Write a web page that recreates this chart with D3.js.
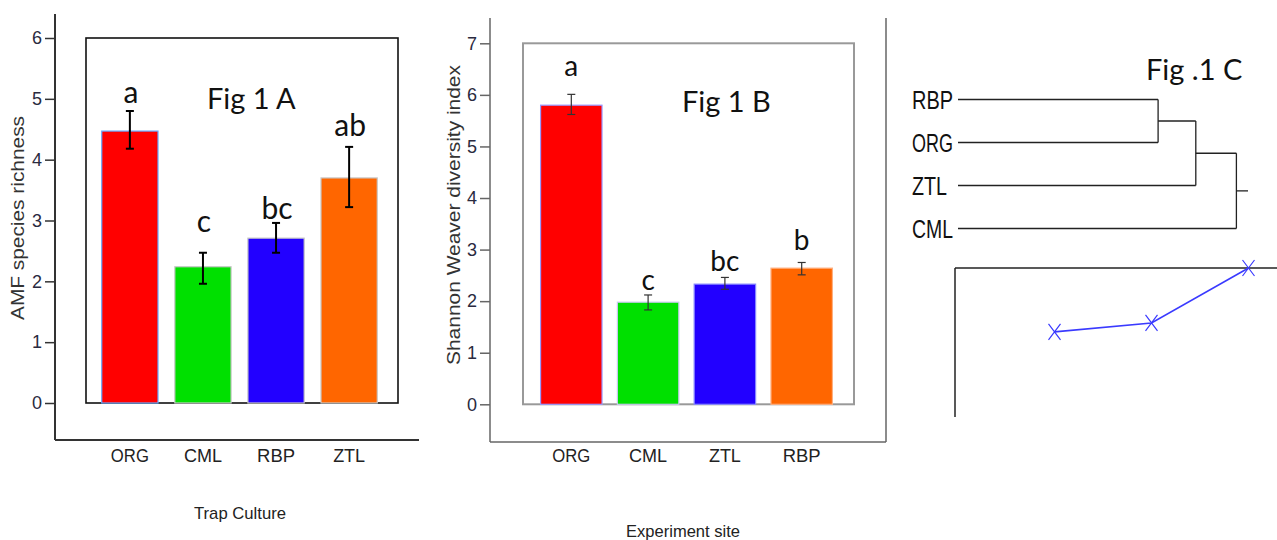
<!DOCTYPE html>
<html><head><meta charset="utf-8">
<script src="https://cdn.jsdelivr.net/npm/d3@7"></script>
<style>body{margin:0;background:#fff;}svg{display:block;}</style>
</head><body>
<svg id="c" width="1277" height="540"></svg>
<script>
// ---- Data ----
const catsA = ["ORG","CML","RBP","ZTL"];
const valsA = [4.47, 2.24, 2.71, 3.70];
const errHiA = [4.80, 2.47, 2.96, 4.21];
const errLoA = [4.18, 1.96, 2.47, 3.22];
const lettersA = ["a","c","bc","ab"];
const colorsA = ["#ff0000","#00e000","#2200ff","#ff6600"];
const ticksA = [0,1,2,3,4,5,6];

const catsB = ["ORG","CML","ZTL","RBP"];
const valsB = [5.80, 1.98, 2.33, 2.64];
const errHiB = [6.01, 2.12, 2.46, 2.75];
const errLoB = [5.62, 1.83, 2.23, 2.51];
const lettersB = ["a","c","bc","b"];
const colorsB = ["#ff0000","#00e000","#2200ff","#ff6600"];
const ticksB = [0,1,2,3,4,5,6,7];

const leavesC = ["RBP","ORG","ZTL","CML"];
const mergeHeightsC = [0.69, 0.82, 0.96]; // (RBP,ORG) ; (+ZTL) ; (+CML)
const rootStubC = 1.0;
const lineX = [1,2,3];
const lineY = [0.43, 0.37, 0.0];

const svg = d3.select("#c");
const sans = "'Liberation Sans', Arial, sans-serif";
const cal = "Lato, 'Open Sans', sans-serif";

function barPanel(o){
  const g = svg.append("g");
  const y = d3.scaleLinear().domain([0, o.ymax]).range([o.y0, o.y1]);
  const x = d3.scaleBand().domain(o.cats).range([o.bx0, o.bx1]).paddingInner(o.padIn).paddingOuter(o.padOut);
  g.append("line").attr("x1",o.ax).attr("x2",o.ax).attr("y1",o.axTop).attr("y2",o.axBot)
    .attr("stroke",o.axColor).attr("stroke-width",o.axW);
  g.append("line").attr("x1",o.ax).attr("x2",o.axRight).attr("y1",o.axBot).attr("y2",o.axBot)
    .attr("stroke",o.axColor).attr("stroke-width",o.axW);
  if(o.rightLine) g.append("line").attr("x1",o.axRight).attr("x2",o.axRight).attr("y1",o.axTop).attr("y2",o.axBot)
    .attr("stroke",o.axColor).attr("stroke-width",o.axW);
  const ya = g.append("g").attr("transform",`translate(${o.ax},0)`)
    .call(d3.axisLeft(y).tickValues(o.ticks).tickFormat(d3.format("d")).tickSize(10).tickPadding(3));
  ya.select(".domain").remove();
  ya.selectAll("line").attr("stroke",o.axColor).attr("stroke-width",1.5);
  ya.selectAll("text").attr("font-family",sans).attr("font-size",18).attr("fill","#2a2a40");
  g.append("rect").attr("x",o.boxX0).attr("y",y(o.ymax)).attr("width",o.boxX1-o.boxX0).attr("height",y(0)-y(o.ymax))
    .attr("fill","none").attr("stroke",o.boxColor).attr("stroke-width",o.boxW);
  g.selectAll("rect.bar").data(o.vals).enter().append("rect").attr("class","bar")
    .attr("x",(d,i)=>x(o.cats[i])).attr("width",x.bandwidth())
    .attr("y",d=>y(d)).attr("height",d=>y(0)-y(d))
    .attr("fill",(d,i)=>o.colors[i]).attr("stroke",(d,i)=>o.barStroke[i]).attr("stroke-width",1.2);
  const cx = i => x(o.cats[i]) + x.bandwidth()/2;
  o.vals.forEach((v,i)=>{
    g.append("line").attr("x1",cx(i)).attr("x2",cx(i)).attr("y1",y(o.hi[i])).attr("y2",y(o.lo[i]))
      .attr("stroke",o.errColor).attr("stroke-width",o.errW);
    [o.hi[i],o.lo[i]].forEach(e=>g.append("line").attr("x1",cx(i)-o.cap).attr("x2",cx(i)+o.cap)
      .attr("y1",y(e)).attr("y2",y(e)).attr("stroke",o.errColor).attr("stroke-width",o.errW));
    g.append("text").attr("x",cx(i)+o.letterDx).attr("y",y(o.hi[i])-o.letterOff[i])
      .attr("text-anchor","middle").attr("font-family",cal).attr("font-size",o.letterSize).attr("fill","#111")
      .text(o.letters[i]);
  });
  o.cats.forEach((c,i)=>g.append("text").attr("x",cx(i)).attr("y",o.xlabY).attr("text-anchor","middle")
    .attr("font-family",sans).attr("font-size",18).attr("fill","#222").attr("textLength",c==="ZTL"?32:38)
    .attr("lengthAdjust","spacingAndGlyphs").text(c));
  g.append("text").attr("x",o.titleX).attr("y",o.titleY).attr("font-family",cal).attr("font-size",29)
    .attr("fill","#111").text(o.title);
  g.append("text").attr("transform",`translate(${o.yTitleX},${o.yTitleY}) rotate(-90)`).attr("text-anchor","middle")
    .attr("font-family",sans).attr("font-size",18).attr("fill","#333").attr("textLength",o.yTitleLen)
    .attr("lengthAdjust","spacingAndGlyphs").text(o.yTitle);
  g.append("text").attr("x",o.xTitleX).attr("y",o.xTitleY).attr("text-anchor","middle")
    .attr("font-family",sans).attr("font-size",17).attr("fill","#222").attr("textLength",o.xTitleLen)
    .attr("lengthAdjust","spacingAndGlyphs").text(o.xTitle);
}

barPanel({cats:catsA, vals:valsA, hi:errHiA, lo:errLoA, letters:lettersA, colors:colorsA, ticks:ticksA,
  ymax:6, y0:403, y1:38, bx0:82, bx1:397, padIn:0.23, padOut:0.27,
  ax:55, axTop:14, axBot:440, axRight:419, axColor:"#333", axW:2, rightLine:false,
  boxX0:86, boxX1:398, boxColor:"#111", boxW:1.6,
  barStroke:["#66aaff","#c8c8c8","#c8c8c8","#c8c8c8"],
  errColor:"#000", errW:2, cap:4, letterDx:1, letterOff:[8,21,4,11], letterSize:30,
  xlabY:462, title:"Fig 1 A", titleX:207, titleY:109,
  yTitle:"AMF  species richness", yTitleX:24, yTitleY:218, yTitleLen:204,
  xTitle:"Trap Culture", xTitleX:240, xTitleY:519, xTitleLen:92});

barPanel({cats:catsB, vals:valsB, hi:errHiB, lo:errLoB, letters:lettersB, colors:colorsB, ticks:ticksB,
  ymax:7, y0:404.3, y1:43.3, bx0:526, bx1:847, padIn:0.2, padOut:0.19,
  ax:490, axTop:18, axBot:442, axRight:886, axColor:"#666", axW:1.5, rightLine:true,
  boxX0:523, boxX1:854, boxColor:"#999", boxW:2,
  barStroke:["#9999ff","#c8c8ee","#8888ff","#ffb080"],
  errColor:"#333", errW:1.2, cap:4, letterDx:0, letterOff:[18,5,6,12], letterSize:28,
  xlabY:462, title:"Fig 1 B", titleX:682, titleY:112,
  yTitle:"Shannon Weaver diversity index", yTitleX:460, yTitleY:215, yTitleLen:300,
  xTitle:"Experiment site", xTitleX:683, xTitleY:537, xTitleLen:114});

// ---- Panel C: dendrogram ----
const gc = svg.append("g");
const yLeaf = d3.scalePoint().domain(leavesC).range([99.5, 228.5]);
const xH = d3.scaleLinear().domain([0, rootStubC]).range([958, 1248]);
leavesC.forEach(l=>gc.append("text").attr("x",912).attr("y",yLeaf(l)+9).attr("font-family",sans)
  .attr("font-size",25).attr("fill","#111").attr("textLength",l==="ZTL"?35:41).attr("lengthAdjust","spacingAndGlyphs").text(l));
const tree = {h:mergeHeightsC[2], children:[{h:mergeHeightsC[1], children:[{h:mergeHeightsC[0], children:[{name:"RBP"},{name:"ORG"}]},{name:"ZTL"}]},{name:"CML"}]};
const root = d3.hierarchy(tree);
root.eachAfter(n=>{
  if(!n.children){ n.py = yLeaf(n.data.name); n.px = xH(0); }
  else { n.py = d3.mean(n.children, c=>c.py); n.px = xH(n.data.h); }
});
const dc = "#222";
root.each(n=>{
  if(n.children){
    gc.append("line").attr("x1",n.px).attr("x2",n.px).attr("y1",d3.min(n.children,c=>c.py)).attr("y2",d3.max(n.children,c=>c.py))
      .attr("stroke",dc).attr("stroke-width",1.3);
    n.children.forEach(c=>gc.append("line").attr("x1",c.px).attr("x2",n.px).attr("y1",c.py).attr("y2",c.py)
      .attr("stroke",dc).attr("stroke-width",1.3));
  }
});
gc.append("line").attr("x1",root.px).attr("x2",xH(rootStubC)).attr("y1",root.py).attr("y2",root.py).attr("stroke",dc).attr("stroke-width",1.3);
gc.append("text").attr("x",1146).attr("y",80).attr("font-family",cal).attr("font-size",29).attr("fill","#111").text("Fig .1 C");

// ---- Panel C lower: line plot ----
const lx = d3.scaleLinear().domain([1,3]).range([1054.5, 1248.5]);
const ly = d3.scaleLinear().domain([0,1]).range([268, 416.5]);
gc.append("line").attr("x1",955).attr("x2",955).attr("y1",268).attr("y2",417).attr("stroke","#222").attr("stroke-width",1.5);
gc.append("line").attr("x1",955).attr("x2",1277).attr("y1",268).attr("y2",268).attr("stroke","#222").attr("stroke-width",1.5);
const pts = lineX.map((v,i)=>[lx(v), ly(lineY[i])]);
gc.append("path").attr("d",d3.line()(pts)).attr("fill","none").attr("stroke","#3a3aff").attr("stroke-width",1.6);
pts.forEach(p=>gc.append("path").attr("d",`M${p[0]-6},${p[1]-8}L${p[0]+6},${p[1]+8}M${p[0]-6},${p[1]+8}L${p[0]+6},${p[1]-8}`)
  .attr("stroke","#3a3aff").attr("stroke-width",1.2).attr("fill","none"));
</script>
</body></html>
